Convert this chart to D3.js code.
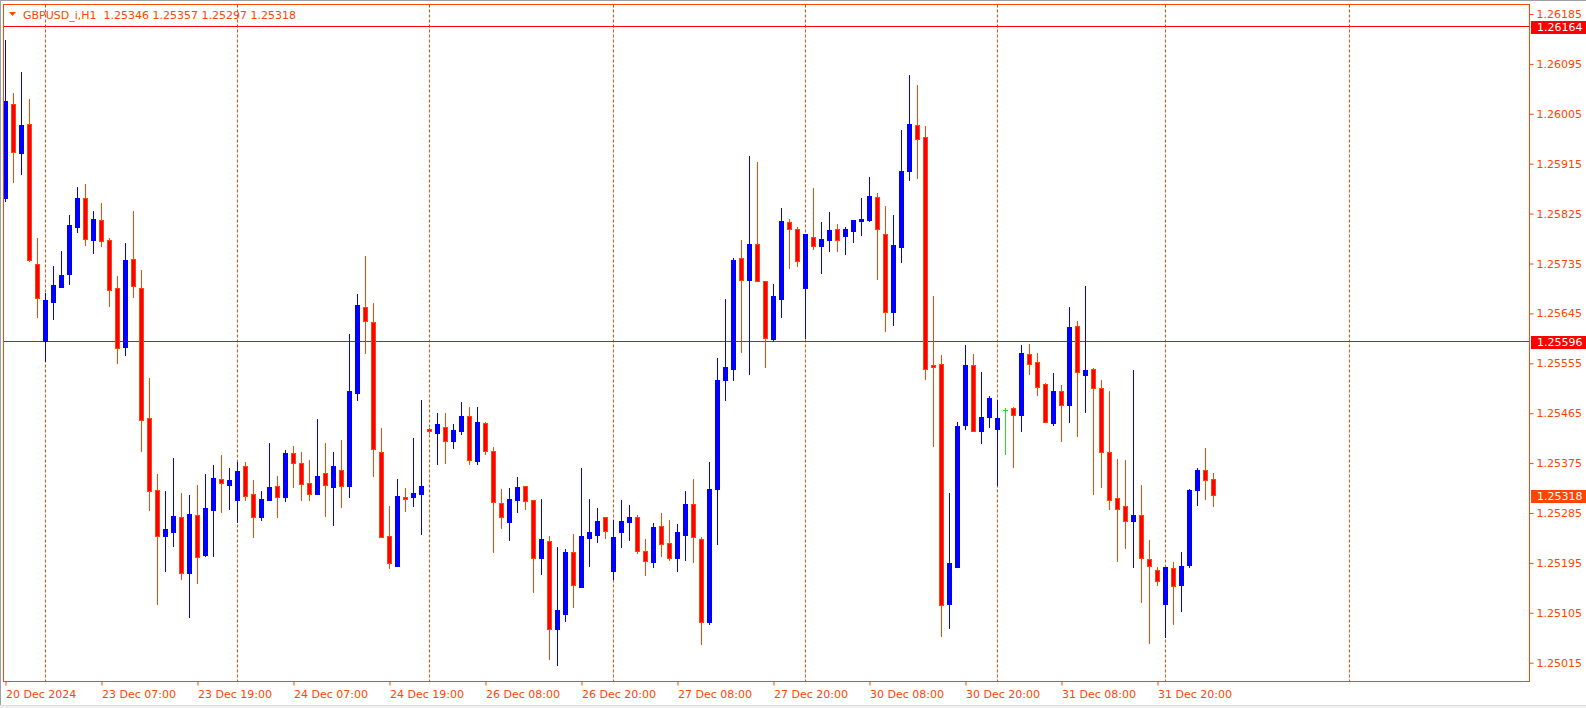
<!DOCTYPE html>
<html><head><meta charset="utf-8">
<script src="https://cdn.jsdelivr.net/npm/d3@7"></script>
<style>
html,body{margin:0;padding:0;background:#fff;overflow:hidden;}
svg{display:block;}
text{font-family:"DejaVu Sans",sans-serif;font-size:11px;}
</style></head><body>
<svg id="c" width="1586" height="708"></svg>
<script>
const symbolTitle = "GBPUSD_i,H1";
const opens = [1.25854,1.26023,1.25935,1.25986,1.25734,1.25596,1.25666,1.25692,1.25716,1.25801,1.25853,1.25777,1.25813,1.25777,1.25690,1.25585,1.25743,1.25690,1.25456,1.25326,1.25244,1.25251,1.25278,1.25177,1.25281,1.25210,1.25291,1.25346,1.25336,1.25309,1.25369,1.25319,1.25277,1.25309,1.25333,1.25314,1.25393,1.25375,1.25339,1.25320,1.25357,1.25332,1.25363,1.25334,1.25502,1.25656,1.25629,1.25395,1.25244,1.25190,1.25314,1.25313,1.25320,1.25436,1.25430,1.25440,1.25415,1.25433,1.25460,1.25379,1.25447,1.25397,1.25303,1.25269,1.25309,1.25333,1.25308,1.25204,1.25234,1.25075,1.25103,1.25214,1.25152,1.25240,1.25246,1.25277,1.25181,1.25251,1.25269,1.25277,1.25216,1.25197,1.25261,1.25230,1.25203,1.25246,1.25302,1.25239,1.25089,1.25328,1.25524,1.25544,1.25745,1.25705,1.25770,1.25703,1.25599,1.25671,1.25810,1.25797,1.25691,1.25782,1.25767,1.25778,1.25797,1.25785,1.25794,1.25811,1.25813,1.25855,1.25788,1.25648,1.25764,1.25901,1.25984,1.25963,1.25552,1.25553,1.25121,1.25188,1.25443,1.25552,1.25433,1.25459,1.25437,1.25471,1.25474,1.25462,1.25571,1.25557,1.25517,1.25447,1.25505,1.25480,1.25622,1.25534,1.25545,1.25510,1.25395,1.25312,1.25297,1.25270,1.25281,1.25202,1.25182,1.25120,1.25185,1.25156,1.25192,1.25327,1.25362,1.25346];
const highs = [1.26138,1.26042,1.26080,1.26032,1.25781,1.25681,1.25730,1.25757,1.25823,1.25873,1.25879,1.25830,1.25844,1.25781,1.25712,1.25772,1.25830,1.25723,1.25529,1.25355,1.25324,1.25384,1.25321,1.25317,1.25335,1.25355,1.25372,1.25390,1.25366,1.25377,1.25377,1.25345,1.25325,1.25412,1.25352,1.25399,1.25406,1.25395,1.25381,1.25455,1.25411,1.25395,1.25417,1.25608,1.25680,1.25749,1.25664,1.25438,1.25298,1.25346,1.25330,1.25420,1.25489,1.25439,1.25465,1.25465,1.25446,1.25485,1.25476,1.25476,1.25450,1.25404,1.25328,1.25330,1.25350,1.25334,1.25309,1.25310,1.25244,1.25224,1.25220,1.25247,1.25366,1.25310,1.25294,1.25278,1.25272,1.25308,1.25299,1.25281,1.25238,1.25267,1.25285,1.25272,1.25265,1.25325,1.25346,1.25241,1.25377,1.25564,1.25671,1.25745,1.25778,1.25929,1.25918,1.25703,1.25698,1.25835,1.25815,1.25801,1.25788,1.25871,1.25810,1.25828,1.25806,1.25800,1.25813,1.25853,1.25891,1.25863,1.25838,1.25822,1.25976,1.26075,1.26057,1.25983,1.25676,1.25570,1.25321,1.25449,1.25588,1.25572,1.25540,1.25496,1.25488,1.25475,1.25476,1.25588,1.25590,1.25574,1.25520,1.25537,1.25515,1.25657,1.25631,1.25694,1.25546,1.25525,1.25505,1.25382,1.25381,1.25543,1.25335,1.25236,1.25187,1.25188,1.25196,1.25214,1.25328,1.25366,1.25402,1.25357];
const lows = [1.25847,1.25882,1.25897,1.25739,1.25638,1.25560,1.25635,1.25692,1.25698,1.25792,1.25768,1.25754,1.25767,1.25659,1.25556,1.25570,1.25674,1.25397,1.25291,1.25121,1.25181,1.25226,1.25166,1.25098,1.25159,1.25207,1.25208,1.25286,1.25293,1.25269,1.25309,1.25242,1.25273,1.25309,1.25278,1.25307,1.25331,1.25309,1.25309,1.25320,1.25280,1.25264,1.25296,1.25314,1.25488,1.25574,1.25352,1.25241,1.25186,1.25190,1.25289,1.25298,1.25247,1.25429,1.25374,1.25376,1.25403,1.25428,1.25374,1.25374,1.25392,1.25215,1.25258,1.25237,1.25286,1.25293,1.25143,1.25175,1.25022,1.25010,1.25091,1.25116,1.25152,1.25190,1.25233,1.25240,1.25166,1.25224,1.25237,1.25213,1.25174,1.25188,1.25208,1.25201,1.25181,1.25200,1.25197,1.25049,1.25084,1.25229,1.25489,1.25524,1.25576,1.25535,1.25704,1.25549,1.25596,1.25638,1.25727,1.25731,1.25601,1.25762,1.25717,1.25758,1.25758,1.25753,1.25773,1.25787,1.25811,1.25707,1.25613,1.25624,1.25738,1.25886,1.25890,1.25527,1.25406,1.25064,1.25078,1.25188,1.25437,1.25433,1.25412,1.25441,1.25335,1.25392,1.25368,1.25433,1.25536,1.25498,1.25449,1.25443,1.25414,1.25450,1.25423,1.25468,1.25320,1.25332,1.25293,1.25199,1.25222,1.25188,1.25125,1.25051,1.25155,1.25062,1.25084,1.25109,1.25188,1.25300,1.25311,1.25297];
const closes = [1.26028,1.25937,1.25985,1.25742,1.25672,1.25669,1.25696,1.25714,1.25804,1.25853,1.25779,1.25815,1.25776,1.25688,1.25583,1.25741,1.25695,1.25453,1.25325,1.25244,1.25256,1.25279,1.25177,1.25283,1.25205,1.25294,1.25348,1.25339,1.25345,1.25361,1.25316,1.25277,1.25310,1.25331,1.25314,1.25393,1.25376,1.25338,1.25320,1.25352,1.25336,1.25370,1.25334,1.25505,1.25660,1.25632,1.25400,1.25242,1.25194,1.25316,1.25311,1.25321,1.25334,1.25432,1.25446,1.25414,1.25435,1.25460,1.25381,1.25449,1.25397,1.25304,1.25277,1.25310,1.25332,1.25307,1.25203,1.25238,1.25076,1.25110,1.25215,1.25155,1.25244,1.25251,1.25271,1.25252,1.25242,1.25271,1.25278,1.25217,1.25198,1.25260,1.25229,1.25203,1.25251,1.25301,1.25242,1.25089,1.25328,1.25524,1.25549,1.25741,1.25705,1.25770,1.25704,1.25601,1.25676,1.25811,1.25798,1.25740,1.25788,1.25767,1.25779,1.25796,1.25778,1.25797,1.25813,1.25815,1.25857,1.25797,1.25648,1.25769,1.25902,1.25987,1.25959,1.25544,1.25549,1.25119,1.25195,1.25442,1.25552,1.25433,1.25458,1.25493,1.25456,1.25471,1.25461,1.25573,1.25554,1.25513,1.25449,1.25505,1.25480,1.25620,1.25540,1.25543,1.25510,1.25395,1.25309,1.25292,1.25270,1.25281,1.25203,1.25189,1.25162,1.25188,1.25154,1.25189,1.25326,1.25363,1.25345,1.25318];
const timeTickBars = [0,12,24,36,48,60,72,84,96,108,120,132,144];
const timeTickLabels = ["20 Dec 2024","23 Dec 07:00","23 Dec 19:00","24 Dec 07:00","24 Dec 19:00","26 Dec 08:00","26 Dec 20:00","27 Dec 08:00","27 Dec 20:00","30 Dec 08:00","30 Dec 20:00","31 Dec 08:00","31 Dec 20:00"];
const separatorBars = [5,29,53,76,100,124,145,168];
const priceTicks = [1.26185,1.26095,1.26005,1.25915,1.25825,1.25735,1.25645,1.25555,1.25465,1.25375,1.25285,1.25195,1.25105,1.25015];
const levelLines = [1.26164,1.25596];
const lastPrice = 1.25318;

const ORANGE = "#ff4500", BULL = "#0000ff", BEAR_FILL = "#ff0000", BEAR_LINE = "#ff4500", DOJI = "#22dd22";
const W = 1586, H = 708;
const L = 3.5, T = 4.5, R = 1529.5, B = 681.5;
const svg = d3.select("#c");

const x = d3.scaleLinear().domain([0, 190]).range([5.5, 5.5 + 8 * 190]);
const y = d3.scaleLinear().domain([1.25015, 1.26185]).range([662.7, 14]);
const yr = v => Math.round(y(v));
const fmt = d3.format(".5f");

// window border
svg.append("rect").attr("x",0).attr("y",0).attr("width",W).attr("height",H).attr("fill","#fff");
svg.append("line").attr("x1",0).attr("x2",W).attr("y1",0.5).attr("y2",0.5).attr("stroke","#a0a0a0");
svg.append("line").attr("x1",0.5).attr("x2",0.5).attr("y1",0).attr("y2",H).attr("stroke","#a0a0a0");
svg.append("rect").attr("x",0).attr("y",705).attr("width",W).attr("height",3).attr("fill","#f0f0f0");
svg.append("line").attr("x1",0).attr("x2",W).attr("y1",705.5).attr("y2",705.5).attr("stroke","#dcdcdc");

svg.append("clipPath").attr("id","plot").append("rect").attr("x",4).attr("y",5).attr("width",R-4).attr("height",B-5);
const g = svg.append("g").attr("clip-path","url(#plot)");

// period separators
g.selectAll("line.sep").data(separatorBars).join("line").attr("class","sep")
  .attr("x1",d=>x(d)).attr("x2",d=>x(d)).attr("y1",T).attr("y2",B)
  .attr("stroke",ORANGE).attr("stroke-width",1).attr("stroke-dasharray","3,2");

// level lines
g.selectAll("line.lvl").data(levelLines).join("line").attr("class","lvl")
  .attr("x1",L).attr("x2",R).attr("y1",d=>yr(d)+0.5).attr("y2",d=>yr(d)+0.5)
  .attr("stroke","#ff0000").attr("stroke-width",1);

// candles
const idx = d3.range(opens.length);
const cg = g.append("g");
idx.forEach(i => {
  const o = opens[i], h = highs[i], l = lows[i], c = closes[i];
  const cx = x(i);
  const kind = c > o ? "bull" : (c < o ? "bear" : "doji");
  const wickCol = kind === "bull" ? BULL : kind === "bear" ? BEAR_LINE : DOJI;
  cg.append("line").attr("x1",cx).attr("x2",cx).attr("y1",yr(h)).attr("y2",yr(l)+1)
    .attr("stroke",wickCol).attr("stroke-width",1);
  const top = yr(Math.max(o,c)), bot = yr(Math.min(o,c));
  if (kind === "bull") {
    cg.append("rect").attr("x",cx-2.5).attr("y",top).attr("width",5).attr("height",bot-top+1).attr("fill",BULL);
  } else if (kind === "bear") {
    if (bot - top >= 2) {
      cg.append("rect").attr("x",cx-2).attr("y",top+0.5).attr("width",4).attr("height",bot-top)
        .attr("fill",BEAR_FILL).attr("stroke",BEAR_LINE).attr("stroke-width",1);
    } else {
      cg.append("rect").attr("x",cx-2.5).attr("y",top).attr("width",5).attr("height",bot-top+1).attr("fill",BEAR_LINE);
    }
  } else {
    cg.append("line").attr("x1",cx-2.5).attr("x2",cx+2.5).attr("y1",top+0.5).attr("y2",top+0.5).attr("stroke",DOJI);
  }
});

// frame
svg.append("rect").attr("x",L).attr("y",T).attr("width",R-L).attr("height",B-T)
  .attr("fill","none").attr("stroke",ORANGE).attr("stroke-width",1);

// price axis
const ay = svg.append("g").attr("transform",`translate(${R},0)`)
  .call(d3.axisRight(y).tickValues(priceTicks).tickFormat(fmt).tickSize(4).tickPadding(3));
ay.select(".domain").remove();
ay.selectAll("line").attr("stroke",ORANGE);
ay.selectAll("text").attr("fill",ORANGE).style("font-family","DejaVu Sans").style("font-size","11px");

// time axis
const ax = svg.append("g").attr("transform",`translate(0,${B})`)
  .call(d3.axisBottom(x).tickValues(timeTickBars).tickFormat((d,i)=>timeTickLabels[i]).tickSize(4).tickPadding(5));
ax.select(".domain").remove();
ax.selectAll("line").attr("stroke",ORANGE);
ax.selectAll("text").attr("fill",ORANGE).attr("text-anchor","start").attr("x",0)
  .style("font-family","DejaVu Sans").style("font-size","11px");

// level/price labels
const boxes = levelLines.map(v => ({v, fill:"#ff0000"})).concat([{v:lastPrice, fill:ORANGE}]);
const bg = svg.append("g");
bg.selectAll("rect").data(boxes).join("rect")
  .attr("x",1531).attr("y",d=>yr(d.v)-5).attr("width",55).attr("height",13).attr("fill",d=>d.fill);
bg.selectAll("text").data(boxes).join("text")
  .attr("x",1537).attr("y",d=>yr(d.v)+1.5).attr("dy","0.35em").attr("fill","#fff").text(d=>fmt(d.v));

// header
const n = opens.length - 1;
svg.append("path").attr("d","M9,12L16,12L12.5,16Z").attr("fill",ORANGE);
svg.append("text").attr("x",23).attr("y",18.5).attr("fill",ORANGE).style("white-space","pre")
  .text(`${symbolTitle}  ${fmt(opens[n])} ${fmt(highs[n])} ${fmt(lows[n])} ${fmt(closes[n])}`);
</script>
</body></html>
